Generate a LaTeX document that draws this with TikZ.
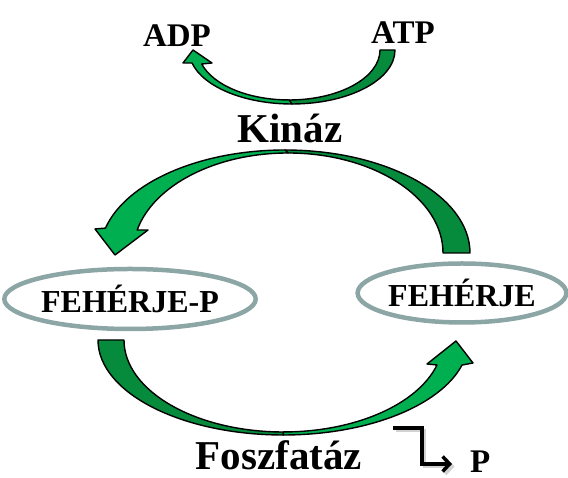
\documentclass[tikz,border=0pt]{standalone}
\usepackage{fontspec}
\setmainfont{Liberation Serif}
\usetikzlibrary{positioning, shapes.geometric, arrows.meta}

\definecolor{arrowbright}{RGB}{0,176,80}
\definecolor{arrowdark}{RGB}{6,138,60}
\definecolor{ringgray}{RGB}{140,165,165}

\tikzset{
    darkpart/.style={fill=arrowdark, draw=black, line width=1.4pt, line join=round},
    brightpart/.style={fill=arrowbright, draw=black, line width=1.4pt, line join=round},
    protein/.style={ellipse, draw=ringgray, line width=4.5pt, inner sep=0pt,
        font=\fontsize{32}{35}\selectfont\bfseries},
    label/.style={inner sep=0pt, font=\fontsize{33}{36}\selectfont\bfseries},
    enzyme/.style={inner sep=0pt, font=\fontsize{41}{44}\selectfont\bfseries}
}

\begin{document}
\begin{tikzpicture}[x=1pt, y=1pt]
                \useasboundingbox (0,0) rectangle (568,478);

                %Nodes
                \node[label] at (177,442) (adp) {ADP};
                \node[label] at (403,445) (atp) {ATP};
                \node[enzyme, anchor=base] at (290,335) (kinaz) {Kináz};
                \node[protein, minimum width=233pt, minimum height=60pt] at (130,179) (fp) {FEHÉRJE-P};
                \node[protein, minimum width=204pt, minimum height=59pt] at (462,185) (f) {FEHÉRJE};
                \node[enzyme, anchor=base] at (279,8) (foszfataz) {Foszfatáz};
                \node[label, anchor=base west] at (470,5) (p) {P};

                %ATP -> ADP
                \draw[darkpart] (395,428) arc[start angle=0, end angle=-90, x radius=103, y radius=54]
                    -- (289,378) arc[start angle=-90, end angle=0, x radius=91, y radius=50] -- cycle;
                \draw[brightpart] (292,374) arc[start angle=-90, end angle=-166, x radius=103, y radius=54]
                    -- (183,415) -- (193,428) -- (212,415) -- (201.7,414)
                    arc[start angle=-163.7, end angle=-90, x radius=91, y radius=50] -- cycle;

                %Kinaz: FEHERJE -> FEHERJE-P
                \draw[darkpart] (470,225) arc[start angle=0, end angle=90, x radius=185, y radius=103]
                    -- (288,325) arc[start angle=90, end angle=0, x radius=155, y radius=100] -- cycle;
                \draw[brightpart] (285,328) arc[start angle=90, end angle=166, x radius=185, y radius=103]
                    -- (95,249) -- (115,223) -- (148,248) -- (137.2,248)
                    arc[start angle=166.7, end angle=90, x radius=155, y radius=100] -- cycle;

                %Foszfataz: FEHERJE-P -> FEHERJE
                \draw[darkpart] (98,138) arc[start angle=180, end angle=270, x radius=185.3, y radius=95]
                    -- (283.5,46) arc[start angle=270, end angle=180, x radius=159.5, y radius=92] -- cycle;
                \draw[brightpart] (283.3,43) arc[start angle=270, end angle=344.7, x radius=185.3, y radius=95]
                    -- (473,115) -- (456,137) -- (427,114) -- (437,113)
                    arc[start angle=344.2, end angle=270, x radius=159.5, y radius=92] -- cycle;

                %Lines
                \coordinate (elbowstart) at (393,50);
                \coordinate (elbowbend) at (422,14);
                \coordinate (ptip) at (452,14);
                \draw[gray!35, line width=3.5pt, -{Straight Barb[length=7pt, width=15pt]}]
                    ([shift={(2.5,-2.5)}]elbowstart) -| ([shift={(2.5,-2.5)}]elbowbend) -- ([shift={(2.5,-2.5)}]ptip);
                \draw[line width=3.5pt, -{Straight Barb[length=7pt, width=15pt]}]
                    (elbowstart) -| (elbowbend) -- (ptip);
            \end{tikzpicture}
\end{document}
